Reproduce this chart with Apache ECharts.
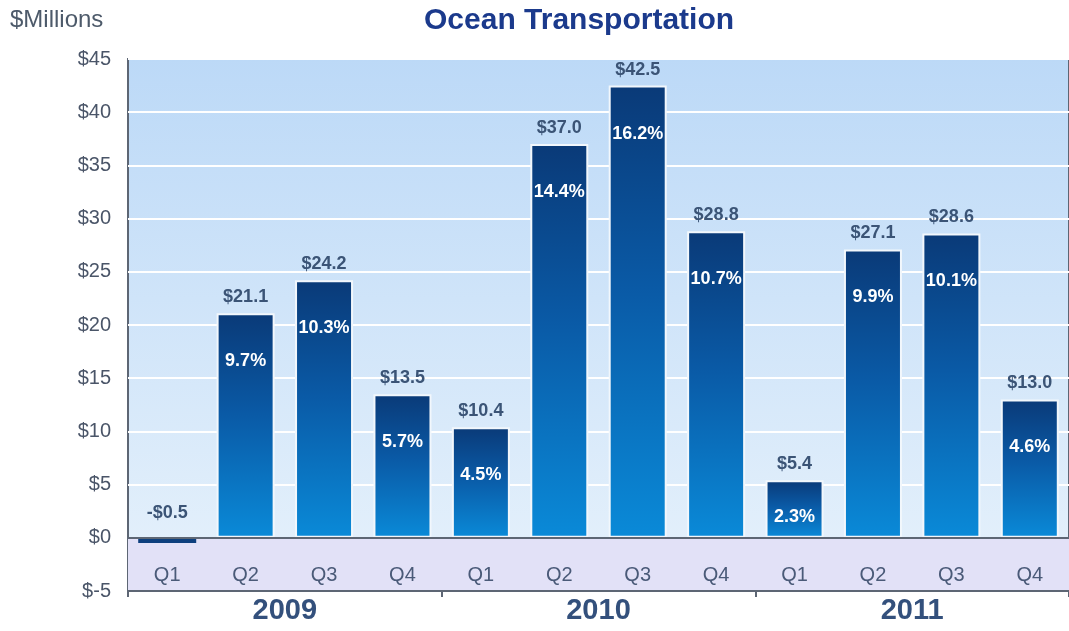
<!DOCTYPE html>
<html>
<head>
<meta charset="utf-8">
<script src="https://cdn.jsdelivr.net/npm/echarts@6/dist/echarts.min.js"></script>
<style>
  html, body { margin: 0; padding: 0; background: #ffffff; }
  #chart { width: 1069px; height: 631px; }
</style>
</head>
<body>
<div id="chart"></div>
<script>
// Ocean Transportation operating income by quarter ($ millions) and margin
const quarters = ['Q1', 'Q2', 'Q3', 'Q4', 'Q1', 'Q2', 'Q3', 'Q4', 'Q1', 'Q2', 'Q3', 'Q4'];
const years = ['2009', '2010', '2011'];
const income = [-0.5, 21.1, 24.2, 13.5, 10.4, 37.0, 42.5, 28.8, 5.4, 27.1, 28.6, 13.0];
const margin = [null, '9.7%', '10.3%', '5.7%', '4.5%', '14.4%', '16.2%', '10.7%', '2.3%', '9.9%', '10.1%', '4.6%'];
const yTicks = { min: -5, max: 45, step: 5 };

const narrow = "'Liberation Sans Narrow', 'Arial Narrow', 'Liberation Sans', Arial, sans-serif";
const sans = "'Liberation Sans', Arial, Helvetica, sans-serif";

const barFill = new echarts.graphic.LinearGradient(0, 0, 0, 1, [
  { offset: 0, color: '#0a3a78' },
  { offset: 0.45, color: '#0a5aa6' },
  { offset: 1, color: '#0a8ad8' }
]);

const incomeData = income.map(function (v) {
  const item = { value: v };
  if (v < 0) {
    item.itemStyle = { borderWidth: 0, color: '#0d3f7e' };
    item.label = { distance: 16 };
  }
  return item;
});

// short bars keep their margin label closer to the top edge
const marginData = income.map(function (v) {
  const item = { value: v };
  if (v !== null && v < 8) item.label = { distance: 28 };
  return item;
});

const chart = echarts.init(document.getElementById('chart'), null, { renderer: 'canvas' });

chart.setOption({
  animation: false,
  backgroundColor: '#ffffff',
  title: [
    {
      text: 'Ocean Transportation',
      left: 424, top: 6, padding: 0,
      textStyle: { fontFamily: sans, fontSize: 30, fontWeight: 'bold', color: '#1b3a8c' }
    },
    {
      text: '$Millions',
      left: 10, top: 8, padding: 0,
      textStyle: { fontFamily: sans, fontSize: 24, fontWeight: 'normal', color: '#4d5a6a' }
    }
  ],
  grid: {
    left: 128, top: 59, width: 950, height: 532,
    show: true,
    borderColor: '#5d6674',
    borderWidth: 2,
    backgroundColor: new echarts.graphic.LinearGradient(0, 0, 0, 1, [
      { offset: 0, color: '#bcd9f7' },
      { offset: 0.9, color: '#e2effb' },
      { offset: 1, color: '#e2effb' }
    ])
  },
  xAxis: [
    {
      type: 'category',
      data: quarters,
      position: 'bottom',
      z: 10,
      axisLine: { onZero: false, lineStyle: { color: '#5d6674', width: 2 } },
      axisTick: { show: false },
      axisLabel: {
        inside: true, margin: 6,
        fontFamily: narrow, fontSize: 20, color: '#4a5a78'
      }
    },
    {
      type: 'category',
      data: years,
      position: 'bottom',
      z: 10,
      axisLine: { onZero: false, lineStyle: { color: '#5d6674', width: 2 } },
      axisTick: { show: true, length: 6, lineStyle: { color: '#5d6674', width: 2 } },
      axisLabel: {
        margin: 5,
        fontFamily: sans, fontSize: 29, fontWeight: 'bold', color: '#33507c'
      }
    }
  ],
  yAxis: {
    type: 'value',
    min: yTicks.min, max: yTicks.max, interval: yTicks.step,
    axisLine: { show: false },
    axisTick: { show: false },
    splitLine: { lineStyle: { color: '#ffffff', width: 2 } },
    axisLabel: {
      margin: 17,
      fontFamily: narrow, fontSize: 20, color: '#4a5568',
      formatter: function (v) { return '$' + v; }
    }
  },
  series: [
    {
      type: 'bar',
      xAxisIndex: 0,
      data: incomeData,
      barWidth: 58,
      itemStyle: { color: barFill, borderColor: '#f2f7fc', borderWidth: 2 },
      label: {
        show: true, position: 'top', distance: 7,
        fontFamily: sans, fontSize: 18, fontWeight: 'bold', color: '#3b5476',
        formatter: function (p) {
          const v = p.value;
          return (v < 0 ? '-$' : '$') + Math.abs(v).toFixed(1);
        }
      },
      markArea: {
        silent: true,
        itemStyle: { color: '#e2e1f7' },
        data: [[{ yAxis: yTicks.min }, { yAxis: 0 }]]
      },
      markLine: {
        silent: true,
        symbol: 'none',
        label: { show: false },
        lineStyle: { color: '#5d6674', width: 2, type: 'solid' },
        data: [{ yAxis: 0 }]
      }
    },
    {
      type: 'bar',
      xAxisIndex: 0,
      data: marginData,
      barWidth: 58,
      barGap: '-100%',
      silent: true,
      itemStyle: { color: 'rgba(0,0,0,0)' },
      label: {
        show: true, position: 'insideTop', distance: 39,
        fontFamily: sans, fontSize: 18, fontWeight: 'bold', color: '#ffffff',
        formatter: function (p) { return margin[p.dataIndex] || ''; }
      }
    }
  ]
});
</script>
</body>
</html>
